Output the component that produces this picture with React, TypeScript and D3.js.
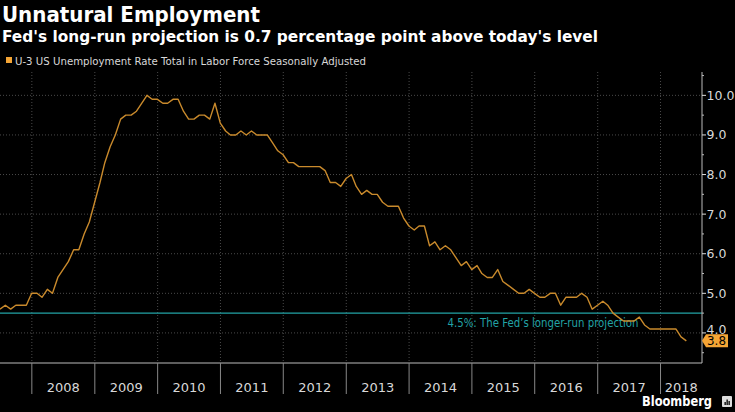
import React from "react";
import * as d3 from "d3";

const W = 735;
const H = 412;

const startMonth = "2007-06";
const values: number[] = [
  // 2007 Jun-Dec
  4.6, 4.7, 4.6, 4.7, 4.7, 4.7, 5.0,
  // 2008
  5.0, 4.9, 5.1, 5.0, 5.4, 5.6, 5.8, 6.1, 6.1, 6.5, 6.8, 7.3,
  // 2009
  7.8, 8.3, 8.7, 9.0, 9.4, 9.5, 9.5, 9.6, 9.8, 10.0, 9.9, 9.9,
  // 2010
  9.8, 9.8, 9.9, 9.9, 9.6, 9.4, 9.4, 9.5, 9.5, 9.4, 9.8, 9.3,
  // 2011
  9.1, 9.0, 9.0, 9.1, 9.0, 9.1, 9.0, 9.0, 9.0, 8.8, 8.6, 8.5,
  // 2012
  8.3, 8.3, 8.2, 8.2, 8.2, 8.2, 8.2, 8.1, 7.8, 7.8, 7.7, 7.9,
  // 2013
  8.0, 7.7, 7.5, 7.6, 7.5, 7.5, 7.3, 7.2, 7.2, 7.2, 6.9, 6.7,
  // 2014
  6.6, 6.7, 6.7, 6.2, 6.3, 6.1, 6.2, 6.1, 5.9, 5.7, 5.8, 5.6,
  // 2015
  5.7, 5.5, 5.4, 5.4, 5.6, 5.3, 5.2, 5.1, 5.0, 5.0, 5.1, 5.0,
  // 2016
  4.9, 4.9, 5.0, 5.0, 4.7, 4.9, 4.9, 4.9, 5.0, 4.9, 4.6, 4.7,
  // 2017
  4.8, 4.7, 4.5, 4.4, 4.3, 4.3, 4.3, 4.4, 4.2, 4.1, 4.1, 4.1,
  // 2018
  4.1, 4.1, 4.1, 3.9, 3.8,
];

const yearLabels: number[] = [2008, 2009, 2010, 2011, 2012, 2013, 2014, 2015, 2016, 2017, 2018];
const yTicks: number[] = [4, 5, 6, 7, 8, 9, 10];
const yMinorTicks: number[] = [3.5, 4.5, 5.5, 6.5, 7.5, 8.5, 9.5, 10.5];
const fedProjection = 4.5;
const lastValue = 3.8;

const title = "Unnatural Employment";
const subtitle = "Fed's long-run projection is 0.7 percentage point above today's level";
const legendLabel = "U-3 US Unemployment Rate Total in Labor Force Seasonally Adjusted";
const projectionLabel = "4.5%: The Fed\u2019s longer-run projection";

const [sy, sm] = startMonth.split("-").map(Number);
const data = values.map((v, i) => ({
  date: new Date(sy, sm - 1 + i + 1, 0), // end of month
  value: v,
}));

const plotLeft = 0;
const plotRight = 702;
const plotTop = 72;
const plotBottom = 363;

const x = d3
  .scaleTime()
  .domain([new Date(2007, 5, 30), new Date(2018, 7, 30)])
  .range([plotLeft, plotRight]);
const y = d3.scaleLinear().domain([3.24, 10.59]).range([plotBottom, plotTop]);

const lineGen = d3
  .line<{ date: Date; value: number }>()
  .x((d) => x(d.date))
  .y((d) => y(d.value));

const ORANGE_LINE = "#c98a2c";
const ORANGE = "#f5a535";
const TEAL = "#22a3a6";
const GRID = "#4a4a4a";
const TEXT = "#d8d8d8";

export default function App() {
  const yearStarts = yearLabels.map((yr) => new Date(yr, 0, 1));
  const yLast = y(lastValue);
  return (
    <svg
      width={W}
      height={H}
      style={{ position: "absolute", left: 0, top: 0, background: "#000" }}
      fontFamily="'DejaVu Sans', Verdana, sans-serif"
    >
      <rect x={0} y={0} width={W} height={H} fill="#000" />
      {/* Titles */}
      <text x={2} y={22} fill="#fff" fontSize={21} fontWeight="bold" textLength={258} lengthAdjust="spacingAndGlyphs">
        {title}
      </text>
      <text x={2} y={41.5} fill="#fff" fontSize={15} fontWeight="bold" textLength={596} lengthAdjust="spacingAndGlyphs">
        {subtitle}
      </text>
      <rect x={6} y={57} width={6} height={6} fill={ORANGE} />
      <text x={15} y={64.5} fill={TEXT} fontSize={11} textLength={351} lengthAdjust="spacingAndGlyphs">
        {legendLabel}
      </text>

      {/* Grid */}
      {yTicks.map((t) => (
        <line key={"hg" + t} x1={plotLeft} x2={plotRight} y1={y(t)} y2={y(t)} stroke={GRID} strokeWidth={1} strokeDasharray="1,2" />
      ))}
      {yearStarts.map((d, i) => (
        <line key={"vg" + i} x1={x(d)} x2={x(d)} y1={plotTop} y2={plotBottom} stroke={GRID} strokeWidth={1} strokeDasharray="1,2" />
      ))}

      {/* Fed projection line */}
      <line x1={plotLeft} x2={plotRight} y1={y(fedProjection)} y2={y(fedProjection)} stroke={TEAL} strokeWidth={1.3} />
      <text x={447.5} y={y(fedProjection) + 13.5} fill={TEAL} fontSize={11.5} textLength={191} lengthAdjust="spacingAndGlyphs">
        {projectionLabel}
      </text>

      {/* Data line */}
      <path d={lineGen(data) || ""} fill="none" stroke={ORANGE_LINE} strokeWidth={1.4} strokeLinejoin="round" />

      {/* Right axis */}
      <line x1={plotRight} x2={plotRight} y1={plotTop} y2={plotBottom} stroke="#bbb" strokeWidth={1} />
      {yMinorTicks.filter((t) => y(t) >= plotTop && y(t) <= plotBottom).map((t) => (
        <line key={"mt" + t} x1={plotRight} x2={plotRight + 2} y1={y(t)} y2={y(t)} stroke="#bbb" />
      ))}
      {yTicks.map((t) => (
        <g key={"yt" + t}>
          <line x1={plotRight} x2={plotRight + 4} y1={y(t)} y2={y(t)} stroke="#ddd" />
          <text x={706.5} y={y(t) - (t === 4 ? 3 : 0)} dy="0.36em" fill={TEXT} fontSize={12.5}>
            {t.toFixed(1)}
          </text>
        </g>
      ))}

      {/* Last value flag */}
      <path
        d={`M${plotRight},${yLast} L${plotRight + 4},${yLast - 6.5} L${728},${yLast - 6.5} L${728},${yLast + 6.5} L${plotRight + 4},${yLast + 6.5} Z`}
        fill={ORANGE}
      />
      <text x={707} y={yLast} dy="0.37em" fill="#000" fontSize={12.5} textLength={19} lengthAdjust="spacingAndGlyphs">
        {lastValue.toFixed(1)}
      </text>

      {/* Bottom axis */}
      <line x1={plotLeft} x2={plotRight} y1={plotBottom} y2={plotBottom} stroke="#bbb" strokeWidth={1} />
      {yearStarts.map((d, i) => (
        <line key={"xt" + i} x1={x(d)} x2={x(d)} y1={plotBottom} y2={394} stroke="#888" strokeWidth={1} />
      ))}
      {yearLabels.map((yr) => {
        const a = x(new Date(yr, 0, 1));
        const b = Math.min(x(new Date(yr + 1, 0, 1)), plotRight);
        return (
          <text key={"yl" + yr} x={(a + b) / 2} y={391.5} textAnchor="middle" fill={TEXT} fontSize={13}>
            {yr}
          </text>
        );
      })}

      {/* Branding */}
      <text x={642} y={406} fill="#fff" fontSize={14} fontWeight="bold" textLength={70} lengthAdjust="spacingAndGlyphs">
        Bloomberg
      </text>
      <rect x={722} y={396} width={10} height={11} rx={1} fill="#ddd" />
      <rect x={724.5} y={402} width={1.3} height={3} fill="#000" />
      <rect x={726.5} y={399.5} width={1.3} height={5.5} fill="#000" />
      <rect x={728.5} y={401} width={1.3} height={4} fill="#000" />
    </svg>
  );
}
